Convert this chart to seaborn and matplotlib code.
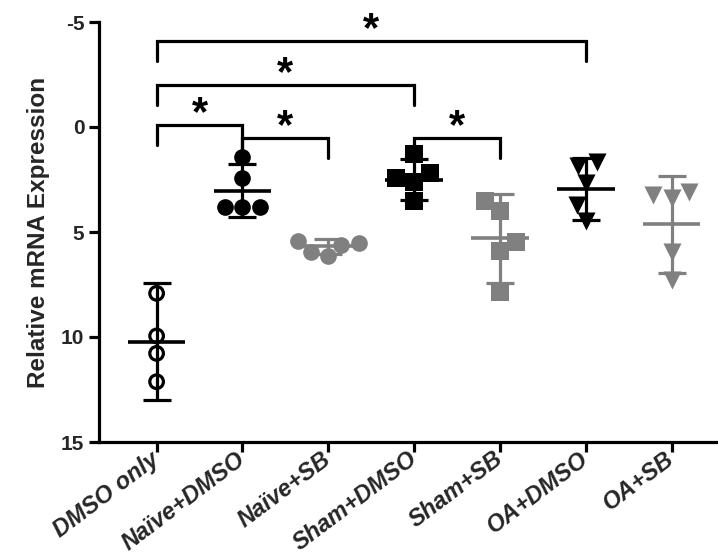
import numpy as np
import pandas as pd
import matplotlib
matplotlib.use("Agg")
import matplotlib.pyplot as plt
import seaborn as sns

# Groups on the x axis
groups = ["DMSO only", "Naïve+DMSO", "Naïve+SB", "Sham+DMSO", "Sham+SB", "OA+DMSO", "OA+SB"]

# Individual replicate values per group
dmso_only = [7.92, 9.95, 10.78, 12.13]
naive_dmso = [1.44, 2.44, 3.80, 3.80, 3.80]
naive_sb = [5.45, 5.50, 5.62, 5.94, 6.15]
sham_dmso = [1.29, 2.21, 2.60, 2.44, 3.52]
sham_sb = [3.52, 4.00, 5.46, 5.89, 7.84]
oa_dmso = [1.65, 1.86, 2.65, 3.71, 4.46]
oa_sb = [3.08, 3.40, 3.24, 5.94, 7.29]

# Group mean and 95% CI half-width
group_means = [10.22, 3.03, 5.68, 2.50, 5.30, 2.95, 4.64]
group_ci = [2.78, 1.25, 0.37, 0.97, 2.12, 1.48, 2.32]

# Pairwise comparisons (group index pairs) and their labels
comparisons = [(0, 5), (0, 3), (0, 1), (1, 2), (3, 4)]
comparison_labels = ["*", "*", "*", "*", "*"]

y_ticks = [-5, 0, 5, 10, 15]
y_tick_labels = ["-5", "0", "5", "10", "15"]

values = [dmso_only, naive_dmso, naive_sb, sham_dmso, sham_sb, oa_dmso, oa_sb]
df = pd.DataFrame({
    "group": [g for g, v in zip(groups, values) for _ in v],
    "value": [x for v in values for x in v],
})

BLACK = "#000000"
GRAY = "#808080"
markers = ["o", "o", "o", "s", "s", "v", "v"]
colors = [BLACK, BLACK, GRAY, BLACK, GRAY, BLACK, GRAY]
sizes = [9.8, 12, 12, 12.5, 12.5, 13, 13]
hollow = [True, False, False, False, False, False, False]

sns.set_theme(style="ticks")
plt.rcParams["font.family"] = ["Liberation Sans", "DejaVu Sans"]
plt.rcParams["font.weight"] = "bold"

fig = plt.figure(figsize=(7.18, 5.54), dpi=100)
W, H = 718, 554
ax = fig.add_axes([99 / W, 1 - 442 / H, 1 - 99 / W, (442 - 22) / H])

LW = 2.3
for i, g in enumerate(groups):
    sub = df[df["group"] == g]
    before = len(ax.collections)
    if hollow[i]:
        sns.swarmplot(data=sub, x="group", y="value", order=groups, marker=markers[i],
                      color=colors[i], size=sizes[i], edgecolor=colors[i], linewidth=LW,
                      facecolor="none", ax=ax, zorder=2, warn_thresh=1.0)
        for coll in ax.collections[before:]:
            coll.set_facecolor("none")
            coll.set_edgecolor(colors[i])
            coll.set_linewidth(LW)
    else:
        sns.swarmplot(data=sub, x="group", y="value", order=groups, marker=markers[i],
                      color=colors[i], size=sizes[i], linewidth=0, ax=ax, zorder=2,
                      warn_thresh=1.0)

# Mean line and 95% CI whiskers
xpos = np.arange(len(groups))
for i in range(len(groups)):
    ax.errorbar(xpos[i], group_means[i], yerr=group_ci[i], fmt="none",
                ecolor=colors[i], elinewidth=LW, capsize=10, capthick=LW, zorder=3)
    ax.hlines(group_means[i], xpos[i] - 0.335, xpos[i] + 0.335,
              colors=colors[i], linewidth=LW + 0.3, zorder=3)

# Significance brackets
bracket_y = [-4.08, -2.01, -0.08, 0.52, 0.52]
for (a, b), yb, lab in zip(comparisons, bracket_y, comparison_labels):
    right_drop = 1.45 if (a, b) == (0, 1) else 0.95
    ax.plot([a, a, b, b], [yb + 0.95, yb, yb, yb + right_drop],
            color=BLACK, linewidth=LW, solid_joinstyle="miter", clip_on=False, zorder=4)
    ax.annotate(lab, xy=((a + b) / 2, yb), xytext=(0, 0), textcoords="offset points",
                ha="center", va="baseline", fontsize=30, fontweight="bold",
                color=BLACK, annotation_clip=False)

ax.set_xlim(-0.671, 6.54)
ax.set_ylim(15, -5)
ax.set_yticks(y_ticks)
ax.set_yticklabels(y_tick_labels)
ax.set_xlabel("")
ax.set_ylabel("Relative mRNA Expression", fontsize=17.5, fontweight="bold", labelpad=8)

for s in ["top", "right"]:
    ax.spines[s].set_visible(False)
for s in ["left", "bottom"]:
    ax.spines[s].set_linewidth(LW)
    ax.spines[s].set_color(BLACK)

ax.tick_params(axis="both", width=LW, length=7.5, color=BLACK)
ax.tick_params(axis="y", labelsize=15, pad=3)
ax.tick_params(axis="x", labelsize=17, pad=3)
for lbl in ax.get_xticklabels():
    lbl.set_rotation(37)
    lbl.set_ha("right")
    lbl.set_va("center")
    lbl.set_rotation_mode("anchor")
    lbl.set_fontstyle("italic")
    lbl.set_fontweight("bold")
for lbl in ax.get_yticklabels():
    lbl.set_fontweight("bold")

fig.savefig("out.png", dpi=100)
